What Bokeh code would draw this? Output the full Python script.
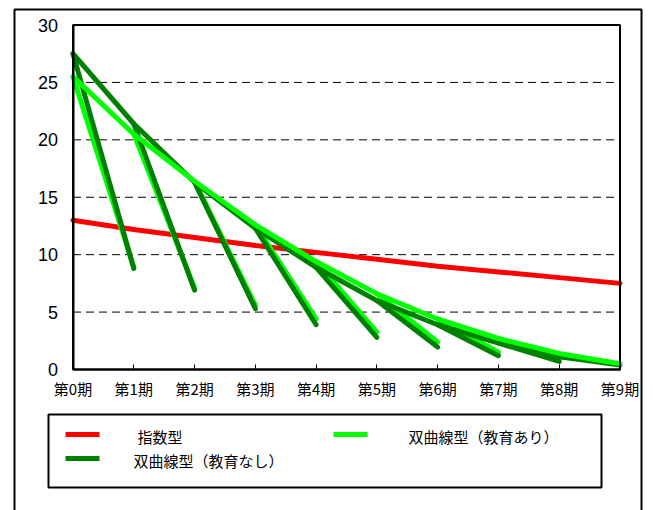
from bokeh.plotting import figure
from bokeh.models import BoxAnnotation, Label, FixedTicker, Range1d
from bokeh.embed import file_html
from bokeh.resources import INLINE

# ---- data ----
periods = ["第0期", "第1期", "第2期", "第3期", "第4期", "第5期", "第6期", "第7期", "第8期", "第9期"]
exponential = [13.0, 12.2, 11.5, 10.8, 10.2, 9.6, 9.0, 8.5, 8.0, 7.5]
hyper_no_edu = [27.5, 21.4, 16.3, 12.3, 8.9, 6.0, 3.9, 2.3, 1.1, 0.4]
hyper_edu = [25.5, 20.5, 16.4, 12.6, 9.4, 6.6, 4.4, 2.7, 1.4, 0.5]
# value reached one period later along the steep branch that starts at each period
drop_no_edu = [8.8, 6.9, 5.3, 3.9, 2.8, 1.95, 1.2, 0.7]
drop_edu = [8.9, 7.1, 5.6, 4.4, 3.25, 2.4, 1.5, 1.0]
series_names = ["指数型", "双曲線型（教育なし）", "双曲線型（教育あり）"]
series_colors = ["#FF0000", "#008000", "#00FF00"]
y_ticks = [0, 5, 10, 15, 20, 25, 30]

xs = list(range(len(periods)))
x_min, x_max = xs[0], xs[-1]
y_min, y_max = y_ticks[0], y_ticks[-1]

# ---- layout: the frame spans the whole canvas; the plot area sits inside it ----
W, H = 653, 510
area_left, area_right, area_top, area_bottom = 72.5, 619.5, 24.5, 369.0
sx = (area_right - area_left) / (x_max - x_min)
sy = (area_bottom - area_top) / (y_max - y_min)
x_range = Range1d(x_min - area_left / sx, x_max + (W - area_right) / sx)
y_range = Range1d(y_min - (H - area_bottom) / sy, y_max + area_top / sy)

p = figure(width=W, height=H, output_backend="svg", toolbar_location=None,
           x_range=x_range, y_range=y_range,
           min_border_left=0, min_border_right=0, min_border_top=0, min_border_bottom=0)
p.background_fill_color = "white"
p.border_fill_color = "white"
p.outline_line_color = None
p.grid.visible = False


def canvas_box(left, right, top, bottom, **kw):
    return BoxAnnotation(left=left, right=right, top=top, bottom=bottom,
                         left_units="canvas", right_units="canvas",
                         top_units="canvas", bottom_units="canvas", **kw)


# outer chart border
p.add_layout(canvas_box(14, 641, 9, 600, fill_alpha=0, line_color="black",
                        line_alpha=1, line_width=2, level="underlay"))

# dashed horizontal grid lines inside the plot area
grid_vals = y_ticks[1:-1]
p.segment([x_min] * len(grid_vals), grid_vals, [x_max] * len(grid_vals), grid_vals,
          line_color="black", line_width=1, line_dash="8 5")

# axes placed at the plot area's edges
p.xaxis.fixed_location = y_min
p.yaxis.fixed_location = x_min
p.xaxis.bounds = (x_min, x_max)
p.yaxis.bounds = (y_min, y_max)
p.xaxis.ticker = FixedTicker(ticks=xs)
p.xaxis.major_label_overrides = {i: periods[i] for i in xs}
p.xaxis.major_tick_in = 5
p.xaxis.major_tick_out = 0
p.xaxis.minor_tick_line_color = None
p.xaxis.major_label_standoff = 8
p.xaxis.major_label_text_font = "Noto Sans CJK JP"
p.xaxis.major_label_text_font_size = "15px"
p.xaxis.major_label_text_color = "black"
p.yaxis.ticker = FixedTicker(ticks=y_ticks)
p.yaxis.major_tick_in = 0
p.yaxis.major_tick_out = 0
p.yaxis.minor_tick_line_color = None
p.yaxis.major_label_standoff = 15
p.yaxis.major_label_text_font = "Liberation Sans"
p.yaxis.major_label_text_font_size = "18px"
p.yaxis.major_label_text_color = "black"
for ax in (p.xaxis, p.yaxis):
    ax.axis_line_color = "black"
    ax.axis_line_width = 2
    ax.major_tick_line_color = "black"
    ax.major_tick_line_width = 1

# top and right edges of the plot area
p.add_layout(BoxAnnotation(left=x_min, right=x_max, bottom=y_min, top=y_max,
                           fill_alpha=0, line_color="black", line_alpha=1, line_width=2))

# data lines
p.line(xs, exponential, line_color=series_colors[0], line_width=5, line_cap="round")
n = len(drop_no_edu)
p.segment(xs[:n], hyper_edu[:n], xs[1:n + 1], drop_edu,
          line_color=series_colors[2], line_width=5, line_cap="round")
p.segment(xs[:n], hyper_no_edu[:n], xs[1:n + 1], drop_no_edu,
          line_color=series_colors[1], line_width=5, line_cap="round")
p.line(xs, hyper_no_edu, line_color=series_colors[1], line_width=5, line_cap="round")
p.line(xs, hyper_edu, line_color=series_colors[2], line_width=5, line_cap="round")

# legend box
p.add_layout(canvas_box(48, 601, 414, 487, fill_color="white", fill_alpha=1,
                        line_color="black", line_alpha=1, line_width=2))
# legend entries: (swatch left, swatch center y, text left)
legend_pos = [(65, 434, 137), (65, 458, 133), (333, 434, 408)]
for name, color, (lx, ly, tx) in zip(series_names, series_colors, legend_pos):
    p.add_layout(canvas_box(lx, lx + 34, ly - 2.5, ly + 2.5,
                            fill_color=color, fill_alpha=1, line_alpha=0))
    p.add_layout(Label(x=tx, y=ly + 2, x_units="canvas", y_units="canvas", text=name,
                       text_baseline="middle", text_align="left",
                       text_font="Noto Sans CJK JP", text_font_size="15px",
                       text_color="black"))

open("out.html", "w").write(file_html(p, INLINE))
